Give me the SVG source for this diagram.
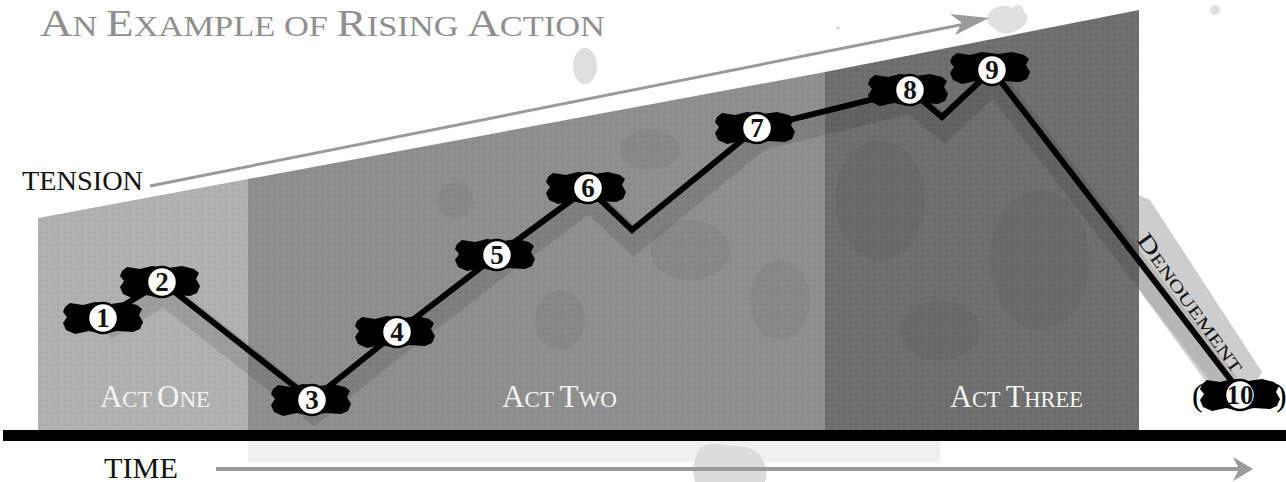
<svg xmlns="http://www.w3.org/2000/svg" width="1286" height="482" viewBox="0 0 1286 482">
  <defs>
    <style>
      .serif { font-family: "Liberation Serif", "Times New Roman", serif; }
      .act { font-family: "Liberation Serif", serif; fill: #f4f4f4; font-size: 23px; }
      .act .cap { font-size: 31px; }
      .num { font-family: "Liberation Serif", serif; font-weight: bold; font-size: 27px; fill: #111; text-anchor: middle; }
      .ring { fill: #fff; stroke: #000; stroke-width: 2.5; }
      .stain { fill: #000; opacity: 0.045; }
    </style>
    <path id="blob" d="M-38,-11 L-33,-15 L-20,-13 L-8,-16 L8,-14 L22,-16 L34,-13 L39,-9 L36,-3 L40,4 L37,11 L30,14 L14,13 L0,16 L-14,13 L-28,16 L-37,12 L-40,5 L-36,-1 L-40,-6 Z" fill="#000"/>
    <pattern id="tex" width="6" height="6" patternUnits="userSpaceOnUse">
      <circle cx="1.5" cy="1.5" r="1" fill="#fff" opacity="0.06"/>
      <circle cx="4.5" cy="4.5" r="1" fill="#000" opacity="0.05"/>
    </pattern>
  </defs>

  <rect width="1286" height="482" fill="#fff"/>

  <!-- title -->
  <text class="serif" x="40" y="36" fill="#8f8f8f" font-size="29" textLength="565" lengthAdjust="spacingAndGlyphs"><tspan font-size="38">A</tspan>N <tspan font-size="38">E</tspan>XAMPLE OF <tspan font-size="38">R</tspan>ISING <tspan font-size="38">A</tspan>CTION</text>

  <!-- decorative splashes -->
  <ellipse cx="585" cy="66" rx="12" ry="18" fill="#dedede"/>
  <ellipse cx="1215" cy="10" rx="5" ry="5" fill="#e2e2e2"/>
  <path d="M990,12 Q1000,2 1012,8 Q1022,0 1024,12 Q1034,20 1018,30 Q1003,38 994,28 Q982,22 990,12 Z" fill="#e0e0e0"/>
  <circle cx="838" cy="28" r="2" fill="#ddd"/>

  <!-- denouement band -->
  <polygon points="1122,188 1150,200 1262,372 1250,394 1215,394 1082,212" fill="#cdcdcd"/>

  <!-- background panels -->
  <g id="panels">
    <polygon points="38,218 248,179 248,430 38,430" fill="#b0b0b0"/>
    <polygon points="248,179 825,72 825,430 248,430" fill="#8e8e8e"/>
    <polygon points="825,72 1139,10 1139,430 825,430" fill="#6e6e6e"/>
    <polygon points="38,218 1139,10 1139,430 38,430" fill="url(#tex)"/>
    <rect x="248" y="441" width="692" height="21" fill="#f0f0f0"/>
    <ellipse class="stain" cx="560" cy="320" rx="25" ry="30"/>
    <ellipse class="stain" cx="690" cy="250" rx="40" ry="30"/>
    <ellipse class="stain" cx="455" cy="200" rx="18" ry="18"/>
    <ellipse class="stain" cx="780" cy="300" rx="30" ry="40"/>
    <ellipse class="stain" cx="650" cy="150" rx="30" ry="20"/>
    <ellipse class="stain" cx="880" cy="200" rx="45" ry="60"/>
    <ellipse class="stain" cx="1040" cy="260" rx="50" ry="70"/>
    <ellipse class="stain" cx="940" cy="330" rx="40" ry="30"/>
  </g>

  <!-- stain below baseline -->
  <path d="M700,448 Q712,440 728,446 Q748,444 760,455 Q770,470 765,482 L695,482 Q690,465 700,448 Z" fill="#dcdcdc"/>

  <!-- axes -->
  <g id="axes">
    <rect x="3" y="430" width="1283" height="11" fill="#000"/>
    <line x1="216" y1="469" x2="1240" y2="469" stroke="#9a9a9a" stroke-width="4"/>
    <path d="M1253,469 L1233,457 L1239,469 L1233,481 Z" fill="#9a9a9a"/>
    <line x1="150" y1="186" x2="975" y2="22" stroke="#9a9a9a" stroke-width="3"/>
    <path d="M989,18 L950,14 L962,23 L955,35 Z" fill="#9a9a9a"/>
  </g>

  <!-- axis and act labels -->
  <text class="serif" x="22" y="190" font-size="28" textLength="121" lengthAdjust="spacingAndGlyphs" fill="#111">TENSION</text>
  <text class="serif" x="104" y="478" font-size="29" textLength="74" lengthAdjust="spacingAndGlyphs" fill="#111">TIME</text>
  <text class="act" x="100" y="407" textLength="110" lengthAdjust="spacingAndGlyphs"><tspan class="cap">A</tspan>CT <tspan class="cap">O</tspan>NE</text>
  <text class="act" x="502" y="407" textLength="115" lengthAdjust="spacingAndGlyphs"><tspan class="cap">A</tspan>CT <tspan class="cap">T</tspan>WO</text>
  <text class="act" x="950" y="407" textLength="133" lengthAdjust="spacingAndGlyphs"><tspan class="cap">A</tspan>CT <tspan class="cap">T</tspan>HREE</text>
  <text class="serif" font-size="17" fill="#111" textLength="166" lengthAdjust="spacingAndGlyphs" transform="translate(1136,240) rotate(54)"><tspan font-size="23">D</tspan>ENOUEMENT</text>

  <!-- connectors -->
  <g id="connectors" fill="none" stroke-linejoin="miter">
    <path d="M103,318 L162,282 L312,400 L397,332 L497,255 L588,188 L632,230 L757,128 L910,90 L942,117 L992,70 L1240,392" stroke="#000" stroke-opacity="0.11" stroke-width="24" transform="translate(2,11)"/>
    <path d="M103,318 L162,282 L312,400 L397,332 L497,255 L588,188 L632,230 L757,128 L910,90 L942,117 L992,70 L1240,392" stroke="#000" stroke-width="6"/>
  </g>

  <!-- nodes -->
  <g id="node1"><use href="#blob" x="103" y="318"/><circle class="ring" cx="103" cy="318" r="15"/><text class="num" x="103" y="327">1</text></g>
  <g id="node2"><use href="#blob" x="160" y="282"/><circle class="ring" cx="162" cy="282" r="15"/><text class="num" x="162" y="291">2</text></g>
  <g id="node3"><use href="#blob" x="311" y="400"/><circle class="ring" cx="312" cy="400" r="15"/><text class="num" x="312" y="409">3</text></g>
  <g id="node4"><use href="#blob" x="395" y="332"/><circle class="ring" cx="397" cy="332" r="15"/><text class="num" x="397" y="341">4</text></g>
  <g id="node5"><use href="#blob" x="495" y="255"/><circle class="ring" cx="497" cy="255" r="15"/><text class="num" x="497" y="264">5</text></g>
  <g id="node6"><use href="#blob" x="586" y="188"/><circle class="ring" cx="588" cy="188" r="15"/><text class="num" x="588" y="197">6</text></g>
  <g id="node7"><use href="#blob" x="755" y="128"/><circle class="ring" cx="757" cy="128" r="15"/><text class="num" x="757" y="137">7</text></g>
  <g id="node8"><use href="#blob" x="908" y="90"/><circle class="ring" cx="910" cy="90" r="15"/><text class="num" x="910" y="99">8</text></g>
  <g id="node9"><use href="#blob" x="990" y="68"/><circle class="ring" cx="992" cy="70" r="15"/><text class="num" x="992" y="79">9</text></g>
  <g id="node10">
    <use href="#blob" x="1240" y="395"/>
    <circle class="ring" cx="1240" cy="395" r="15"/>
    <text class="num" x="1240" y="404" font-size="24">10</text>
    <text class="serif" x="1192" y="406" font-size="32" fill="#000">(</text>
    <text class="serif" x="1276" y="406" font-size="32" fill="#000">)</text>
  </g>
</svg>
